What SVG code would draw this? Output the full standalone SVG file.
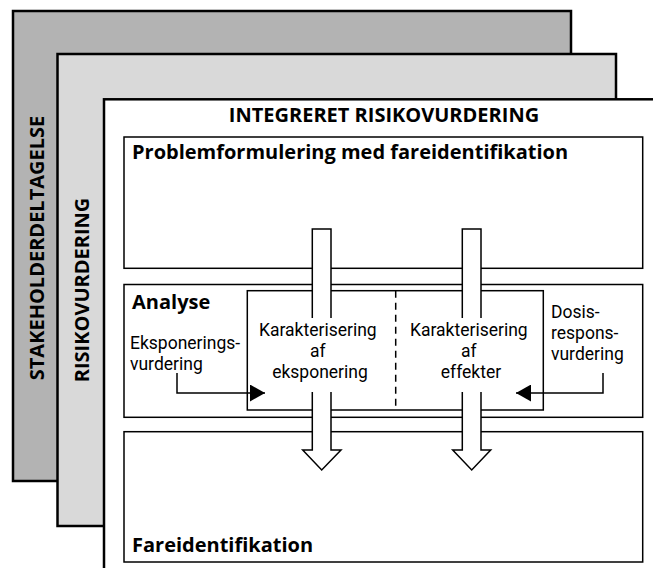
<svg xmlns="http://www.w3.org/2000/svg" width="653" height="568" viewBox="0 0 653 568">
  <style>
    .thick { stroke: #000; stroke-width: 2.5; }
    .box { fill: #fff; stroke: #000; stroke-width: 1.5; }
    .bold { font-family: "Open Sans", "Noto Sans", "Liberation Sans", sans-serif; font-weight: bold; font-size: 20px; fill: #000; }
    .reg { font-family: Roboto, "Liberation Sans", sans-serif; font-size: 17.5px; fill: #000; }
    .line { fill: none; stroke: #000; stroke-width: 1.5; }
    .block { fill: #fff; stroke: #000; stroke-width: 1.5; stroke-linejoin: miter; }
  </style>
  <defs>
    <marker id="head" viewBox="0 0 15 17" refX="15" refY="8.5" markerWidth="15" markerHeight="17" markerUnits="userSpaceOnUse" orient="auto">
      <path d="M0,0 L15,8.5 L0,17 Z" fill="#000"/>
    </marker>
  </defs>

  <g id="stakeholderdeltagelse">
    <rect x="13" y="11" width="558" height="470" fill="#b3b3b3" class="thick"/>
    <text class="bold" font-size="21.3" transform="translate(43.5,248) rotate(-90)" text-anchor="middle">STAKEHOLDERDELTAGELSE</text>
  </g>

  <g id="risikovurdering">
    <rect x="57.5" y="54" width="558.5" height="472" fill="#d9d9d9" class="thick"/>
    <text class="bold" font-size="20.5" transform="translate(88.5,290) rotate(-90)" text-anchor="middle">RISIKOVURDERING</text>
  </g>

  <g id="integreret-risikovurdering">
    <rect x="104" y="99.3" width="600" height="500" fill="#fff" class="thick"/>
    <text class="bold" x="384" y="122" text-anchor="middle">INTEGRERET RISIKOVURDERING</text>
  </g>

  <g id="problemformulering">
    <rect class="box" x="124" y="137" width="518.7" height="131.3"/>
    <text class="bold" x="132" y="159.3">Problemformulering med fareidentifikation</text>
  </g>

  <g id="analyse">
    <rect class="box" x="124" y="284.5" width="518.7" height="132.8"/>
    <text class="bold" x="132" y="309.3">Analyse</text>
  </g>

  <g id="karakterisering">
    <rect class="box" x="247.3" y="290.7" width="296" height="119.3"/>
    <line x1="395.7" y1="290.7" x2="395.7" y2="410" stroke="#000" stroke-width="1.5" stroke-dasharray="7,5"/>
  </g>

  <g id="fareidentifikation">
    <rect class="box" x="124" y="431.7" width="518.7" height="130.3"/>
    <text class="bold" x="132" y="551.7">Fareidentifikation</text>
  </g>

  <g id="connectors">
    <path class="block" d="M312.3,318 V229 H331 V318"/>
    <path class="block" d="M312.3,392 V450 H302.7 L321.7,470 L341,450 H331 V392"/>
    <path class="block" d="M462.3,318 V229 H481 V318"/>
    <path class="block" d="M462.3,392 V450 H452.7 L471.7,470 L490.7,450 H481 V392"/>
    <path class="line" d="M177,373 V393 H265" marker-end="url(#head)"/>
    <path class="line" d="M603,373 V393 H516" marker-end="url(#head)"/>
  </g>

  <g id="karakterisering-eksponering">
    <text class="reg" text-anchor="middle">
      <tspan x="320" y="336">Karakterisering</tspan>
      <tspan x="320" y="357">af</tspan>
      <tspan x="320" y="378">eksponering</tspan>
    </text>
  </g>

  <g id="karakterisering-effekter">
    <text class="reg" text-anchor="middle">
      <tspan x="471" y="336">Karakterisering</tspan>
      <tspan x="471" y="357">af</tspan>
      <tspan x="471" y="378">effekter</tspan>
    </text>
  </g>

  <g id="eksponeringsvurdering">
    <text class="reg">
      <tspan x="130" y="349">Eksponerings-</tspan>
      <tspan x="130" y="370">vurdering</tspan>
    </text>
  </g>

  <g id="dosis-responsvurdering">
    <text class="reg">
      <tspan x="551" y="318">Dosis-</tspan>
      <tspan x="551" y="339">respons-</tspan>
      <tspan x="551" y="360">vurdering</tspan>
    </text>
  </g>
</svg>
